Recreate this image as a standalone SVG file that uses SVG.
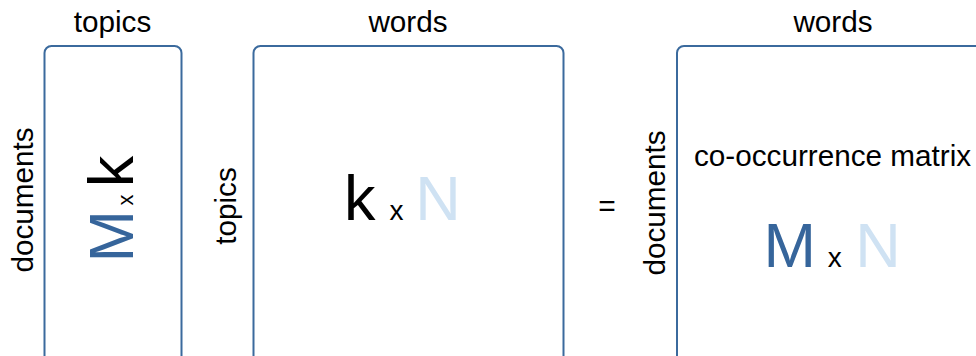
<svg xmlns="http://www.w3.org/2000/svg" width="976" height="356" viewBox="0 0 976 356">
<style>
.box{fill:#ffffff;stroke:#3b6a9d;stroke-width:2}
.lbl{font-family:"Liberation Sans",Arial,sans-serif;font-size:29.7px;fill:#000000}
.big{font-family:"Liberation Sans",Arial,sans-serif;font-size:63px}
.sm{font-family:"Liberation Sans",Arial,sans-serif;fill:#000000}
.dk{fill:#36659b}
.lt{fill:#cfe2f3}
.bk{fill:#000000}
</style>
<rect width="976" height="356" fill="#ffffff"/>
<g id="matrix-doc-topic">
  <rect class="box" x="44.5" y="46" width="137" height="330" rx="7"/>
  <text class="lbl" x="112.5" y="32" text-anchor="middle">topics</text>
  <text class="lbl" transform="translate(33,200) rotate(-90)" text-anchor="middle">documents</text>
  <g transform="translate(133,262.6) rotate(-90)">
    <text class="big dk" x="0" y="0">M</text>
    <text class="sm" x="57" y="0" font-size="22">x</text>
    <text class="big bk" x="75.4" y="0">k</text>
  </g>
</g>
<g id="matrix-topic-word">
  <rect class="box" x="253.5" y="46" width="310" height="330" rx="7"/>
  <text class="lbl" x="408" y="32" text-anchor="middle">words</text>
  <text class="lbl" transform="translate(236,206) rotate(-90)" text-anchor="middle">topics</text>
  <text class="big bk" x="344" y="219.5">k</text>
  <text class="sm" x="389.4" y="219.5" font-size="28">x</text>
  <text class="big lt" x="415.2" y="219.5">N</text>
</g>
<g id="equals">
  <text class="sm" x="607" y="216" font-size="30" text-anchor="middle">=</text>
</g>
<g id="matrix-cooccurrence">
  <rect class="box" x="677" y="46" width="330" height="330" rx="7"/>
  <text class="lbl" x="833" y="32" text-anchor="middle">words</text>
  <text class="lbl" transform="translate(665,203) rotate(-90)" text-anchor="middle">documents</text>
  <text class="lbl" x="694" y="166">co-occurrence matrix</text>
  <text class="big dk" x="763.6" y="266.7">M</text>
  <text class="sm" x="827.8" y="266.7" font-size="28">x</text>
  <text class="big lt" x="855.2" y="266.7">N</text>
</g>
<g id="connectors"></g>
</svg>
